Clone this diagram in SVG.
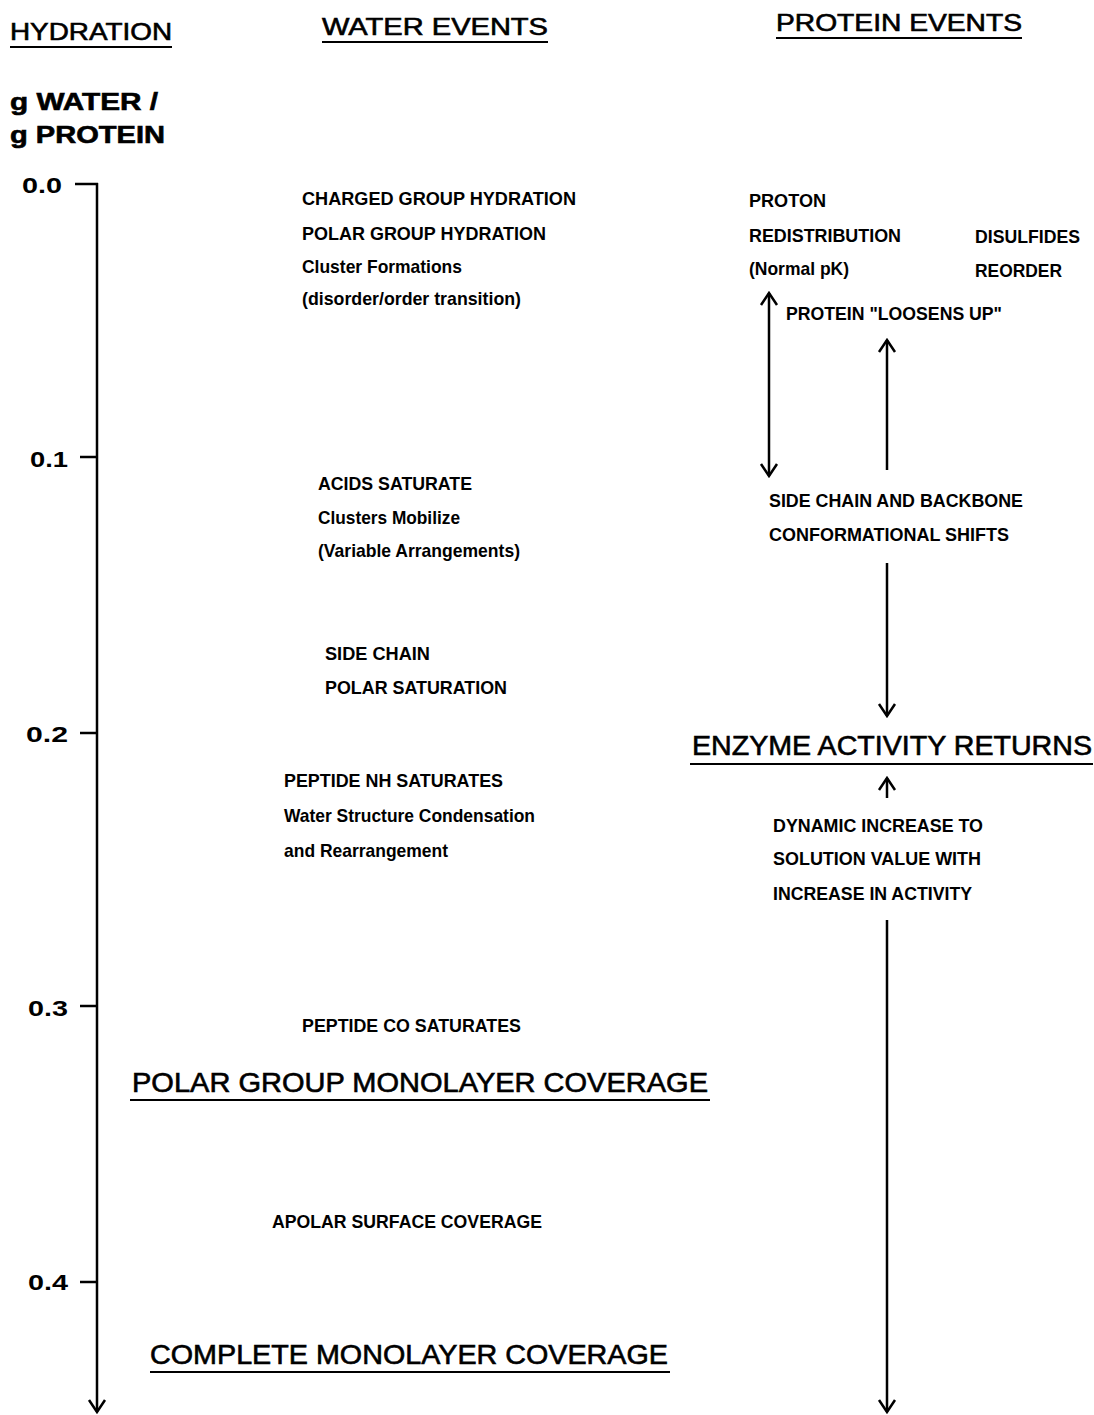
<svg xmlns="http://www.w3.org/2000/svg" width="1094" height="1415" viewBox="0 0 1094 1415">
<style>
text{font-family:"Liberation Sans",Arial,sans-serif;fill:#000}
.h{font-size:24px;stroke:#000;stroke-width:0.6}
.big{font-size:27px;stroke:#000;stroke-width:0.6}
.s{font-size:19px;font-weight:bold}
.t{font-size:22px;font-weight:bold}
.ln{stroke:#000;stroke-width:2.5;fill:none}
.ul{stroke:#000;stroke-width:2.2}
</style>
<defs>
<marker id="v" viewBox="0 0 20 20" refX="18" refY="10" markerWidth="20" markerHeight="20" markerUnits="userSpaceOnUse" orient="auto-start-reverse">
<path d="M6,2 L18,10 L6,18" fill="none" stroke="#000" stroke-width="2.5"/>
</marker>
</defs>
<rect width="1094" height="1415" fill="#fff"/>
<g id="headers">
<text class="h" x="10" y="40" textLength="162" lengthAdjust="spacingAndGlyphs">HYDRATION</text>
<line class="ul" x1="10" y1="47" x2="172" y2="47"/>
<text class="h" x="322" y="35" textLength="226" lengthAdjust="spacingAndGlyphs">WATER  EVENTS</text>
<line class="ul" x1="322" y1="42" x2="548" y2="42"/>
<text class="h" x="776" y="31" textLength="246" lengthAdjust="spacingAndGlyphs">PROTEIN  EVENTS</text>
<line class="ul" x1="776" y1="38" x2="1022" y2="38"/>
<text class="h" x="10" y="110" font-weight="bold" stroke-width="0" textLength="148" lengthAdjust="spacingAndGlyphs">g  WATER /</text>
<text class="h" x="10" y="143" font-weight="bold" stroke-width="0" textLength="155" lengthAdjust="spacingAndGlyphs">g  PROTEIN</text>
</g>
<g id="axis">
<text class="t" x="22" y="193" textLength="40" lengthAdjust="spacingAndGlyphs">0.0</text>
<text class="t" x="30" y="467" textLength="38" lengthAdjust="spacingAndGlyphs">0.1</text>
<text class="t" x="26" y="742" textLength="42" lengthAdjust="spacingAndGlyphs">0.2</text>
<text class="t" x="28" y="1016" textLength="40" lengthAdjust="spacingAndGlyphs">0.3</text>
<text class="t" x="28" y="1290" textLength="40" lengthAdjust="spacingAndGlyphs">0.4</text>
<line class="ln" x1="75" y1="184" x2="98" y2="184"/>
<line class="ln" x1="80" y1="457" x2="98" y2="457"/>
<line class="ln" x1="80" y1="733" x2="98" y2="733"/>
<line class="ln" x1="80" y1="1006" x2="98" y2="1006"/>
<line class="ln" x1="80" y1="1282" x2="98" y2="1282"/>
</g>
<g id="water-events">
<g id="w1">
<text class="s" x="302" y="205" textLength="274" lengthAdjust="spacingAndGlyphs">CHARGED GROUP HYDRATION</text>
<text class="s" x="302" y="240" textLength="244" lengthAdjust="spacingAndGlyphs">POLAR GROUP HYDRATION</text>
<text class="s" x="302" y="273" textLength="160" lengthAdjust="spacingAndGlyphs">Cluster Formations</text>
<text class="s" x="302" y="305" textLength="219" lengthAdjust="spacingAndGlyphs">(disorder/order transition)</text>
</g>
<g id="w2">
<text class="s" x="318" y="490" textLength="154" lengthAdjust="spacingAndGlyphs">ACIDS SATURATE</text>
<text class="s" x="318" y="524" textLength="142" lengthAdjust="spacingAndGlyphs">Clusters Mobilize</text>
<text class="s" x="318" y="557" textLength="202" lengthAdjust="spacingAndGlyphs">(Variable Arrangements)</text>
</g>
<g id="w3">
<text class="s" x="325" y="660" textLength="105" lengthAdjust="spacingAndGlyphs">SIDE CHAIN</text>
<text class="s" x="325" y="694" textLength="182" lengthAdjust="spacingAndGlyphs">POLAR SATURATION</text>
</g>
<g id="w4">
<text class="s" x="284" y="787" textLength="219" lengthAdjust="spacingAndGlyphs">PEPTIDE NH SATURATES</text>
<text class="s" x="284" y="822" textLength="251" lengthAdjust="spacingAndGlyphs">Water Structure Condensation</text>
<text class="s" x="284" y="857" textLength="164" lengthAdjust="spacingAndGlyphs">and Rearrangement</text>
</g>
<g id="w5">
<text class="s" x="302" y="1032" textLength="219" lengthAdjust="spacingAndGlyphs">PEPTIDE CO SATURATES</text>
</g>
<g id="w6">
<text class="big" x="132" y="1092" textLength="576" lengthAdjust="spacingAndGlyphs">POLAR  GROUP  MONOLAYER  COVERAGE</text>
<line class="ul" x1="130" y1="1100" x2="710" y2="1100"/>
</g>
<g id="w7">
<text class="s" x="272" y="1228" textLength="270" lengthAdjust="spacingAndGlyphs">APOLAR SURFACE COVERAGE</text>
</g>
<g id="w8">
<text class="big" x="150" y="1364" textLength="518" lengthAdjust="spacingAndGlyphs">COMPLETE  MONOLAYER  COVERAGE</text>
<line class="ul" x1="150" y1="1372" x2="670" y2="1372"/>
</g>
</g>
<g id="protein-events">
<g id="p1">
<text class="s" x="749" y="207" textLength="77" lengthAdjust="spacingAndGlyphs">PROTON</text>
<text class="s" x="749" y="242" textLength="152" lengthAdjust="spacingAndGlyphs">REDISTRIBUTION</text>
<text class="s" x="749" y="275" textLength="100" lengthAdjust="spacingAndGlyphs">(Normal pK)</text>
</g>
<g id="p2">
<text class="s" x="975" y="243" textLength="105" lengthAdjust="spacingAndGlyphs">DISULFIDES</text>
<text class="s" x="975" y="277" textLength="87" lengthAdjust="spacingAndGlyphs">REORDER</text>
</g>
<g id="p3">
<text class="s" x="786" y="320" textLength="216" lengthAdjust="spacingAndGlyphs">PROTEIN "LOOSENS UP"</text>
</g>
<g id="p4">
<text class="s" x="769" y="507" textLength="254" lengthAdjust="spacingAndGlyphs">SIDE CHAIN AND BACKBONE</text>
<text class="s" x="769" y="541" textLength="240" lengthAdjust="spacingAndGlyphs">CONFORMATIONAL SHIFTS</text>
</g>
<g id="p5">
<text class="big" x="692" y="755" textLength="400" lengthAdjust="spacingAndGlyphs">ENZYME  ACTIVITY  RETURNS</text>
<line class="ul" x1="690" y1="764" x2="1093" y2="764"/>
</g>
<g id="p6">
<text class="s" x="773" y="832" textLength="210" lengthAdjust="spacingAndGlyphs">DYNAMIC INCREASE TO</text>
<text class="s" x="773" y="865" textLength="208" lengthAdjust="spacingAndGlyphs">SOLUTION VALUE WITH</text>
<text class="s" x="773" y="900" textLength="199" lengthAdjust="spacingAndGlyphs">INCREASE IN ACTIVITY</text>
</g>
</g>
<g id="connectors">
<line class="ln" x1="97" y1="183" x2="97" y2="1412" marker-end="url(#v)"/>
<line class="ln" x1="769" y1="293" x2="769" y2="476" marker-start="url(#v)" marker-end="url(#v)"/>
<line class="ln" x1="887" y1="470" x2="887" y2="340" marker-end="url(#v)"/>
<line class="ln" x1="887" y1="563" x2="887" y2="716" marker-end="url(#v)"/>
<line class="ln" x1="887" y1="798" x2="887" y2="778" marker-end="url(#v)"/>
<line class="ln" x1="887" y1="920" x2="887" y2="1412" marker-end="url(#v)"/>
</g>
</svg>
